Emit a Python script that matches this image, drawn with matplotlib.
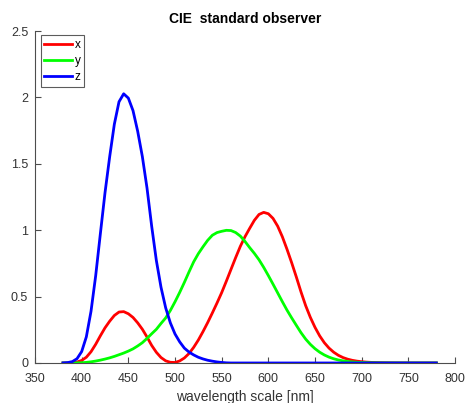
import numpy as np
import matplotlib
matplotlib.use("Agg")
import matplotlib.pyplot as plt

# CIE 1964 10-degree standard observer, 5 nm steps
wl = np.arange(380, 785, 5)

xbar = [0.000160, 0.000662, 0.002362, 0.007242, 0.019110, 0.043400, 0.084736, 0.140638,
        0.204492, 0.264737, 0.314679, 0.357719, 0.383734, 0.386726, 0.370702, 0.342957,
        0.302273, 0.254085, 0.195618, 0.132349, 0.080507, 0.041072, 0.016172, 0.005132,
        0.003816, 0.015444, 0.037465, 0.071358, 0.117749, 0.172953, 0.236491, 0.304213,
        0.376772, 0.451584, 0.529826, 0.616053, 0.705224, 0.793832, 0.878655, 0.951162,
        1.014160, 1.074300, 1.118520, 1.134300, 1.123990, 1.089100, 1.030480, 0.950740,
        0.856297, 0.754930, 0.647467, 0.535110, 0.431567, 0.343690, 0.268329, 0.204300,
        0.152568, 0.112210, 0.081261, 0.057930, 0.040851, 0.028623, 0.019941, 0.013842,
        0.009577, 0.006605, 0.004553, 0.003145, 0.002175, 0.001506, 0.001045, 0.000727,
        0.000508, 0.000356, 0.000251, 0.000178, 0.000126, 0.000090, 0.000065, 0.000046,
        0.000033]

ybar = [0.000017, 0.000072, 0.000253, 0.000769, 0.002004, 0.004509, 0.008756, 0.014456,
        0.021391, 0.029497, 0.038676, 0.049602, 0.062077, 0.074704, 0.089456, 0.106256,
        0.128201, 0.152761, 0.185190, 0.219940, 0.253589, 0.297665, 0.339133, 0.395379,
        0.460777, 0.531360, 0.606741, 0.685660, 0.761757, 0.823330, 0.875211, 0.923810,
        0.961988, 0.982200, 0.991761, 0.999110, 0.997340, 0.982380, 0.955552, 0.915175,
        0.868934, 0.825623, 0.777405, 0.720353, 0.658341, 0.593878, 0.527963, 0.461834,
        0.398057, 0.339554, 0.283493, 0.228254, 0.179828, 0.140211, 0.107633, 0.081187,
        0.060281, 0.044096, 0.031800, 0.022602, 0.015905, 0.011130, 0.007749, 0.005375,
        0.003718, 0.002565, 0.001768, 0.001222, 0.000846, 0.000586, 0.000407, 0.000284,
        0.000199, 0.000140, 0.000098, 0.000070, 0.000050, 0.000036, 0.000025, 0.000018,
        0.000013]

zbar = [0.000705, 0.002928, 0.010482, 0.032344, 0.086011, 0.197120, 0.389366, 0.656760,
        0.972542, 1.282500, 1.553480, 1.798500, 1.967280, 2.027300, 1.994800, 1.900700,
        1.745370, 1.554900, 1.317560, 1.030200, 0.772125, 0.570060, 0.415254, 0.302356,
        0.218502, 0.159249, 0.112044, 0.082248, 0.060709, 0.043050, 0.030451, 0.020584,
        0.013676, 0.007918, 0.003988, 0.001091] + [0.0] * 45

xticks = [350, 400, 450, 500, 550, 600, 650, 700, 750, 800]
yticks = [0, 0.5, 1, 1.5, 2, 2.5]
ytick_labels = ["0", "0.5", "1", "1.5", "2", "2.5"]

plt.rcParams['font.family'] = ['Liberation Sans', 'DejaVu Sans']

fig = plt.figure(figsize=(4.65, 4.03), dpi=100)
ax = fig.add_axes([0.0753, 0.0993, 0.9032, 0.8237])

ax.plot(wl, xbar, color=[1, 0, 0], lw=2, label='x')
ax.plot(wl, ybar, color=[0, 1, 0], lw=2, label='y')
ax.plot(wl, zbar, color=[0, 0, 1], lw=2, label='z')

ax.set_xlim(350, 800)
ax.set_ylim(0, 2.5)
ax.set_xticks(xticks)
ax.set_yticks(yticks)
ax.set_yticklabels(ytick_labels)

gray = '#4d4d4d'
for s in ['top', 'right']:
    ax.spines[s].set_visible(False)
for s in ['left', 'bottom']:
    ax.spines[s].set_color(gray)
    ax.spines[s].set_linewidth(0.8)
ax.tick_params(direction='in', length=4, width=0.8, colors=gray,
               labelsize=9, labelcolor='#333333')
ax.tick_params(axis='x', pad=7)
ax.tick_params(axis='y', pad=5)

ax.set_xlabel('wavelength scale [nm]', fontsize=10, color='#333333', labelpad=4)
ax.set_title('CIE  standard observer', fontsize=10, fontweight='bold', pad=6)

leg = ax.legend(loc='upper left', fontsize=8.5, handlelength=2.3, handletextpad=0.25,
                borderpad=0.3, labelspacing=0.35, fancybox=False,
                bbox_to_anchor=(0.0, 1.005))
leg.get_frame().set_edgecolor('#333333')
leg.get_frame().set_linewidth(0.8)

fig.savefig('out.png', dpi=100)
